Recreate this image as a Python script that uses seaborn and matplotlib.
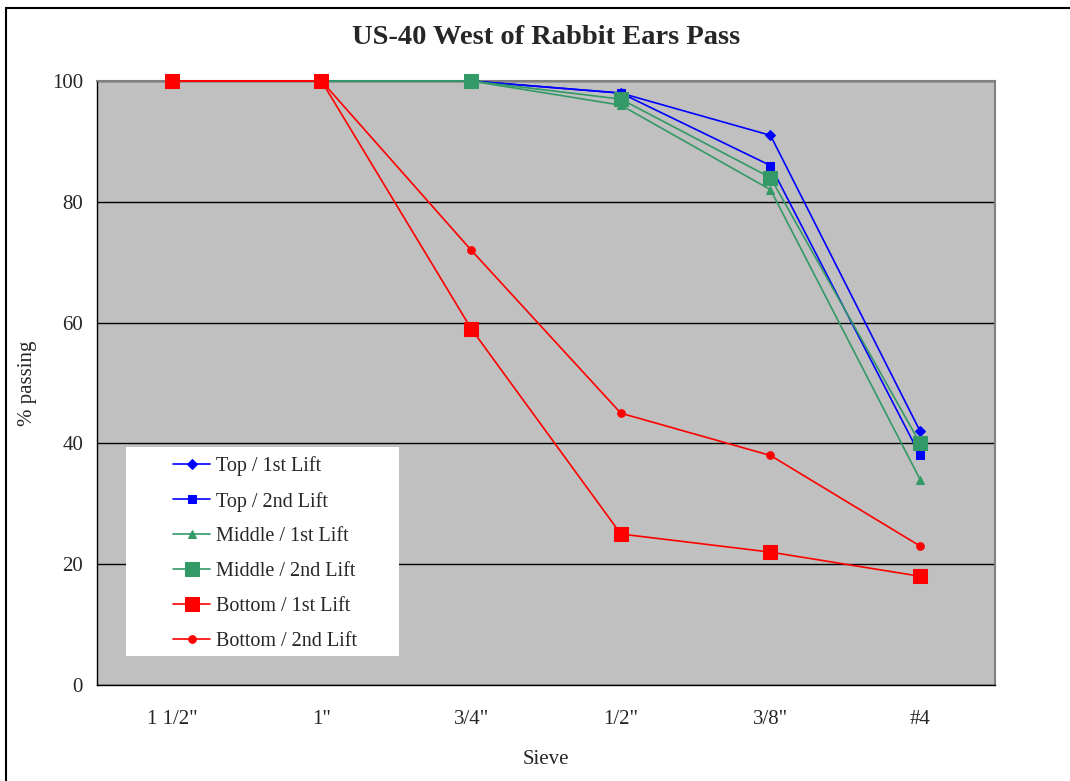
import pandas as pd
import numpy as np
import matplotlib
matplotlib.use('Agg')
import matplotlib.pyplot as plt
import seaborn as sns

# sieve sizes and % passing per sample
sieves = ['1 1/2"', '1"', '3/4"', '1/2"', '3/8"', '#4']
top_1st = [100, 100, 100, 98, 91, 42]
top_2nd = [100, 100, 100, 98, 86, 38]
middle_1st = [100, 100, 100, 96, 82, 34]
middle_2nd = [100, 100, 100, 97, 84, 40]
bottom_1st = [100, 100, 59, 25, 22, 18]
bottom_2nd = [100, 100, 72, 45, 38, 23]

series = {
    'Top / 1st Lift': top_1st,
    'Top / 2nd Lift': top_2nd,
    'Middle / 1st Lift': middle_1st,
    'Middle / 2nd Lift': middle_2nd,
    'Bottom / 1st Lift': bottom_1st,
    'Bottom / 2nd Lift': bottom_2nd,
}
styles = {
    'Top / 1st Lift': dict(color='#0000FF', marker='D', markersize=5),
    'Top / 2nd Lift': dict(color='#0000FF', marker='s', markersize=5.5),
    'Middle / 1st Lift': dict(color='#339966', marker='^', markersize=6),
    'Middle / 2nd Lift': dict(color='#339966', marker='s', markersize=9.5),
    'Bottom / 1st Lift': dict(color='#FF0000', marker='s', markersize=9.5),
    'Bottom / 2nd Lift': dict(color='#FF0000', marker='o', markersize=5.5),
}

rows = []
for name, vals in series.items():
    for i, v in enumerate(vals):
        rows.append({'pos': i, 'Sieve': sieves[i], 'passing': v, 'sample': name})
df = pd.DataFrame(rows)

sns.set_style('white')
plt.rcParams['font.family'] = ['Liberation Serif', 'DejaVu Serif']

fig = plt.figure(figsize=(10.70, 7.81), dpi=100)
ax = fig.add_axes([97 / 1070, 96 / 781, 898 / 1070, 604 / 781])
ax.set_facecolor('#C0C0C0')

for name in series:
    st = styles[name]
    sns.lineplot(data=df[df['sample'] == name], x='pos', y='passing', ax=ax,
                 color=st['color'], marker=st['marker'], markersize=st['markersize'],
                 markeredgecolor=st['color'], linewidth=1.2, label=name, zorder=3,
                 clip_on=False)

ax.set_xlim(-0.5, len(sieves) - 0.5)
ax.set_ylim(0, 100)
ax.set_yticks([0, 20, 40, 60, 80, 100])
ax.set_xticks(range(len(sieves)))
ax.set_xticklabels(sieves)
ax.set_xticks(np.arange(-0.5, len(sieves), 1), minor=True)
ax.tick_params(axis='x', which='major', length=0, pad=18, labelsize=15)
ax.tick_params(axis='x', which='minor', length=6, width=1, direction='out', color='black')
ax.tick_params(axis='y', length=6, width=1, direction='out', color='black', labelsize=15, pad=4)
ax.yaxis.grid(True, color='black', linewidth=1)
ax.set_axisbelow(True)
for s in ['top', 'right']:
    ax.spines[s].set_color('#808080')
    ax.spines[s].set_linewidth(1.5)
for s in ['left', 'bottom']:
    ax.spines[s].set_color('black')
    ax.spines[s].set_linewidth(1)

ax.set_xlabel('Sieve', fontsize=15, labelpad=15)
ax.set_ylabel('% passing', fontsize=15, labelpad=11)
ax.set_title('US-40 West of Rabbit Ears Pass', fontsize=20.5, fontweight='bold', pad=27)

# white legend box, then the legend entries inside it
ax.add_patch(plt.Rectangle((29 / 898, 29 / 604), 273 / 898, 209 / 604, transform=ax.transAxes,
                           facecolor='white', edgecolor='none', zorder=4))
leg = ax.legend(loc='upper left', bbox_to_anchor=(76 / 898, 229 / 604), fontsize=14.5,
                frameon=False, borderaxespad=0, borderpad=0, handlelength=1.85,
                labelspacing=0.78, handletextpad=0.3)
leg.set_zorder(5)

# outer chart border
fig.patches.append(plt.Rectangle((6 / 1070, -0.01), 1.1, 1.0 - 8 / 781 + 0.01,
                                 transform=fig.transFigure, fill=False,
                                 edgecolor='black', linewidth=1.5))

fig.savefig('out.png', dpi=100)
